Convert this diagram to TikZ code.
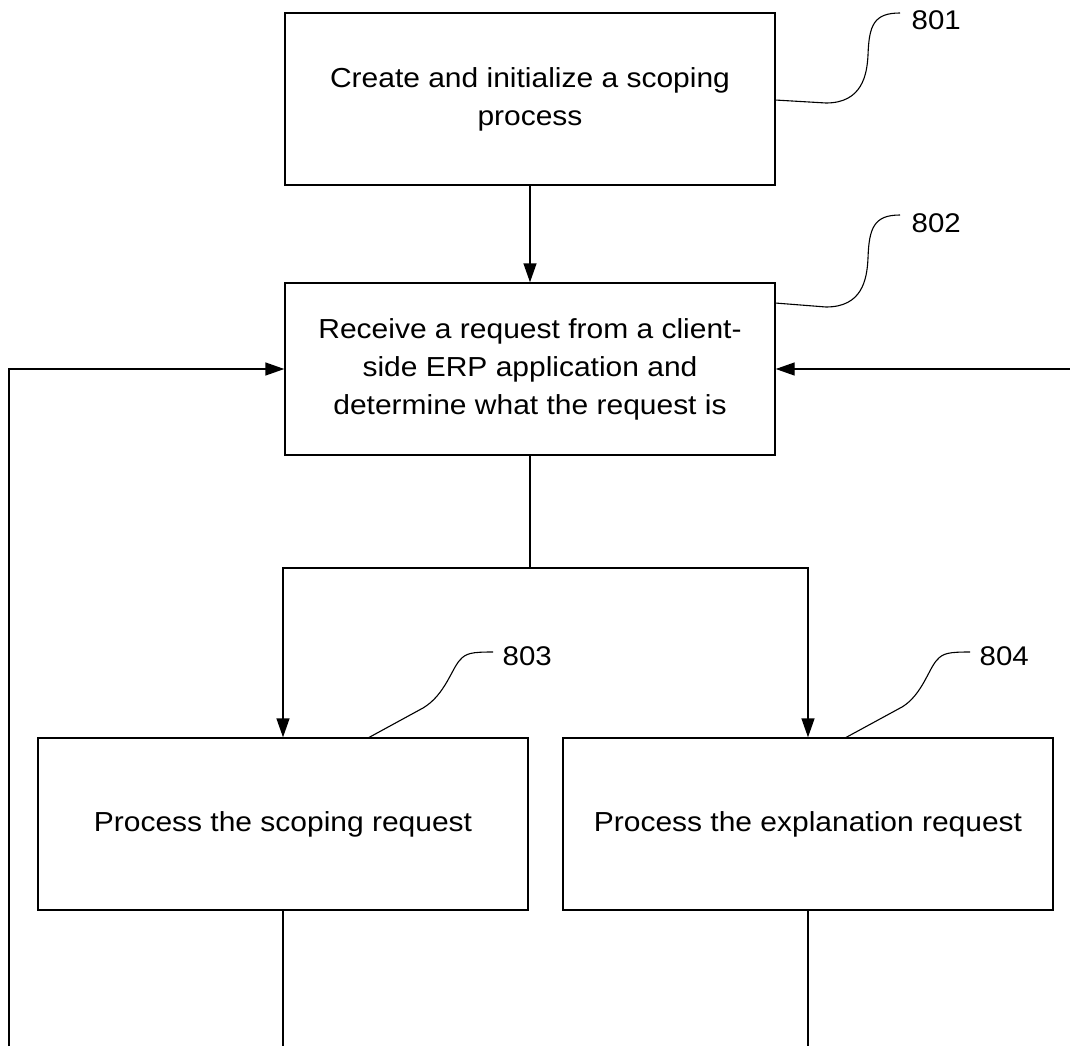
\documentclass[tikz,border=0pt]{standalone}
\usepackage{fontspec}
\setmainfont[FakeStretch=1.09]{Liberation Sans}
\usetikzlibrary{arrows.meta}
\begin{document}
\begin{tikzpicture}[x=1pt,y=-1pt,
  line width=1.4pt,
  stepbox/.style={draw, rectangle, minimum width=490pt, minimum height=172pt,
    align=center, inner sep=0pt, font=\fontsize{27.5}{38}\selectfont},
  flow/.style={-{Triangle[length=19pt,width=13pt]}},
  lead/.style={line width=1.1pt},
  ref/.style={anchor=west, inner sep=0pt, font=\fontsize{27}{30}\selectfont}]
\useasboundingbox (0,0) rectangle (1070,1046);

% process steps
\node[stepbox] (b801) at (530,99)  {Create and initialize a scoping\\process};
\node[stepbox] (b802) at (530,369) {Receive a request from a client-\\side ERP application and\\determine what the request is};
\node[stepbox] (b803) at (283,824) {Process the scoping request};
\node[stepbox] (b804) at (808,824) {Process the explanation request};

% reference numerals
\node[ref] (r801) at (911,20)  {801};
\node[ref] (r802) at (911,223) {802};
\node[ref] (r803) at (502,656) {803};
\node[ref] (r804) at (979,656) {804};

% leader lines
\draw[lead] (775,100) -- (826,103) .. controls (862,103) and (867,75) .. (868,55)
  .. controls (869,25) and (874,13) .. (900,13);
\draw[lead] (775,303) -- (826,307) .. controls (862,307) and (867,280) .. (868,258)
  .. controls (869,228) and (874,215) .. (900,215);
\draw[lead] (368,738) -- (423,708) .. controls (445,695) and (452,668) .. (460,660)
  .. controls (466,653) and (472,652) .. (493,652);
\draw[lead] (845,738) -- (902,707) .. controls (922,695) and (929,668) .. (937,660)
  .. controls (943,653) and (949,652) .. (970,652);

% connectors
\coordinate (split) at (530,568);
\coordinate (loopL) at (9,1046);
\coordinate (loopR) at (1070,369);
\coordinate (end3) at (283,1046);
\coordinate (end4) at (808,1046);

\draw[flow] (b801) -- (b802);
\draw (b802) -- (split);
\draw[flow] (split) -| (b803);
\draw[flow] (split) -| (b804);
\draw[flow] (loopL) |- (b802.west);
\draw[flow] (loopR) -- (b802.east);
\draw (b803) -- (end3);
\draw (b804) -- (end4);
\end{tikzpicture}
\end{document}
